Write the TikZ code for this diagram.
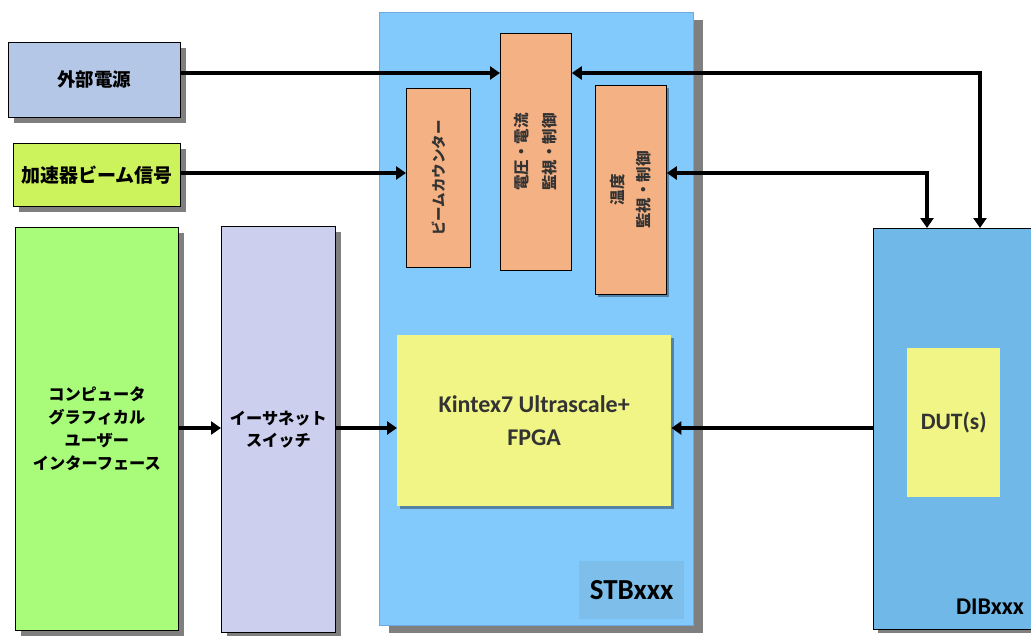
\documentclass[tikz,border=0pt]{standalone}
\usepackage{fontspec}
\usepackage{graphicx}
\setmainfont{Noto Sans CJK JP}
\newfontfamily\lat{Carlito}
\usetikzlibrary{arrows.meta,shadows,calc}
\definecolor{cExt}{HTML}{B4C7E7}
\definecolor{cAcc}{HTML}{CCF25C}
\definecolor{cComp}{HTML}{A8FC7A}
\definecolor{cEth}{HTML}{CCD0EE}
\definecolor{cStb}{HTML}{82C9FC}
\definecolor{cStbBorder}{HTML}{6FA8DC}
\definecolor{cOrange}{HTML}{F4B183}
\definecolor{cYel}{HTML}{F0F586}
\definecolor{cLab}{HTML}{7DBFEA}
\definecolor{cDib}{HTML}{70B8E8}
\definecolor{cShadow}{HTML}{7F7F7F}
\definecolor{cText}{HTML}{333333}
\tikzset{
  box/.style={draw=black, line width=0.8pt, inner sep=0pt, anchor=north west,
    drop shadow={shadow xshift=6pt, shadow yshift=-6pt, fill=cShadow, opacity=1}},
  obox/.style={draw=black, line width=0.8pt, inner sep=0pt, anchor=north west, fill=cOrange,
    text=cText},
  plain/.style={inner sep=0pt, anchor=north west},
  faint/.style={drop shadow={shadow xshift=2.5pt, shadow yshift=-2.5pt, fill=black, opacity=0.35}},
  arr/.style={line width=3.5pt, -{Triangle[length=10pt,width=13pt]}},
  darr/.style={line width=3.5pt, {Triangle[length=10pt,width=13pt]}-{Triangle[length=10pt,width=13pt]}},
}
\begin{document}
\begin{tikzpicture}[x=1pt,y=-1pt]
\useasboundingbox (0,0) rectangle (1031,635);
\clip (0,0) rectangle (1031,635);
% left boxes
\node[box, fill=cExt, minimum width=172pt, minimum height=75pt,
  font=\fontsize{18.5}{20}\selectfont\bfseries] (ext) at (8,42) {外部電源};
\node[box, fill=cAcc, minimum width=167pt, minimum height=63pt,
  font=\fontsize{19}{20}\selectfont\bfseries] (acc) at (13,143) {加速器ビーム信号};
\node[box, fill=cComp, minimum width=163pt, minimum height=403pt, align=center,
  font=\fontsize{16.2}{23}\selectfont\bfseries] (comp) at (15,227)
  {コンピュータ\\グラフィカル\\ユーザー\\インターフェース};
\node[box, fill=cEth, minimum width=114pt, minimum height=406pt, align=center,
  font=\fontsize{16.2}{22}\selectfont\bfseries] (eth) at (221,226) {イーサネット\\スイッチ};
% STB board
\node[draw=cStbBorder, line width=0.8pt, fill=cStb, inner sep=0pt, anchor=north west,
  minimum width=314pt, minimum height=613pt,
  drop shadow={shadow xshift=10pt, shadow yshift=-8pt, fill=cShadow, opacity=1}] (stb) at (379,12) {};
\node[obox, minimum width=64pt, minimum height=179pt] (beam) at (406,88)
  {\rotatebox{90}{\fontsize{14.5}{16}\selectfont\bfseries ビームカウンター}};
\node[obox, minimum width=71pt, minimum height=237pt] (volt) at (500,33)
  {\rotatebox{90}{\fontsize{15.5}{28}\selectfont\bfseries\begin{tabular}{@{}c@{}}電圧・電流\\監視・制御\end{tabular}}};
\node[obox, faint, minimum width=71pt, minimum height=209pt] (temp) at (595,85)
  {\rotatebox{90}{\fontsize{15.5}{26}\selectfont\bfseries\begin{tabular}{@{}c@{}}温度\\監視・制御\end{tabular}}};
\node[plain, faint, fill=cYel, minimum width=274pt, minimum height=171pt, align=center, text=cText,
  font=\lat\fontsize{24}{33}\selectfont\bfseries] (fpga) at (397,335) {Kintex7 Ultrascale+\\FPGA};
\node[plain, fill=cLab, minimum width=105pt, minimum height=58pt,
  font=\lat\fontsize{29}{30}\selectfont\bfseries] (stblab) at (579,561) {STBxxx};
% DIB board
\node[draw=black, line width=0.8pt, fill=cDib, inner sep=0pt, anchor=north west,
  minimum width=170pt, minimum height=401pt,
  drop shadow={shadow xshift=5pt, shadow yshift=-4pt, fill=cShadow, opacity=1}] (dib) at (873,228) {};
\node[plain, fill=cYel, minimum width=93pt, minimum height=149pt, text=cText,
  font=\lat\fontsize{23.5}{25}\selectfont\bfseries] (dut) at (907,348) {DUT(s)};
\node[inner sep=0pt, font=\lat\fontsize{24}{25}\selectfont\bfseries] (dibl) at (990,607) {DIBxxx};
% connectors
\draw[arr] (ext.east |- 0,73) -- (volt.west |- 0,73);
\draw[darr] (volt.east |- 0,73) -| (dib.north -| 980,0);
\draw[arr] (acc.east |- 0,173) -- (beam.west |- 0,173);
\draw[darr] (temp.east |- 0,173) -| (dib.north -| 927,0);
\draw[arr] (comp.east |- 0,428) -- (eth.west |- 0,428);
\draw[arr] (eth.east |- 0,428) -- (fpga.west |- 0,428);
\draw[arr] (dib.west |- 0,428) -- (fpga.east |- 0,428);
\end{tikzpicture}
\end{document}
